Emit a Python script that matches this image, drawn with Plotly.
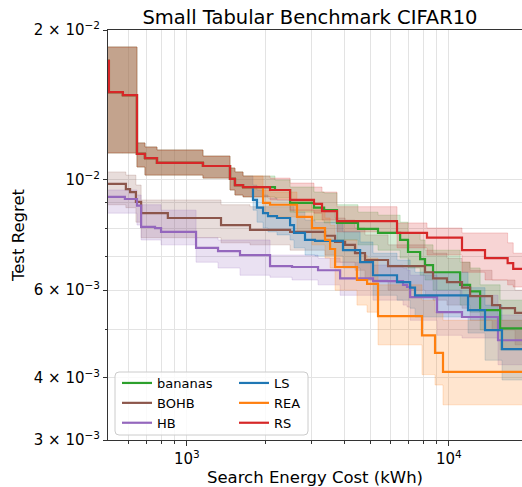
import plotly.graph_objects as go
import math

SCALE = 1e-3  # all regret values below are given in units of 10^-3

# ---------------- data ----------------
# bananas, LS, REA and RS share the same initial random-sampling phase
shared_x = [483, 504, 570, 645, 692, 769, 1152, 1461, 1526, 1638]
shared_y = [17.33, 15.01, 14.80, 11.27, 11.06, 10.81, 10.66, 10.04, 9.76, 9.67]
shared_hi = [18.49, 18.49, 18.49, 11.86, 11.64, 11.48, 11.16, 10.56, 10.37, 10.18]
shared_lo = [11.32, 11.32, 11.32, 10.61, 10.22, 10.22, 10.08, 9.54, 9.32, 9.24]

rs_x = shared_x + [2077, 2477, 3056, 3280, 3741, 6340, 8251, 11223, 13739, 16760, 17600, 20000]
rs_y = shared_y + [9.54, 9.11, 8.95, 8.65, 8.26, 7.82, 7.65, 7.22, 6.96, 6.80, 6.62, 6.62]
rs_hi = shared_hi + [10.08, 9.85, 9.67, 9.45, 8.83, 8.19, 8.00, 7.82, 7.82, 7.47, 7.12, 7.12]
rs_lo = shared_lo + [9.11, 8.69, 8.57, 8.30, 7.86, 7.30, 7.06, 6.52, 6.29, 6.15, 6.09, 6.09]

bananas_x = shared_x + [2169, 2477, 3056, 3340, 3741, 4499, 5365, 6516, 6983, 7769, 8109, 8700,
                        11040, 12050, 13160, 15690, 20000]
bananas_y = shared_y + [9.54, 8.99, 8.79, 8.69, 8.19, 7.97, 7.82, 7.57, 7.16, 6.93, 6.74, 6.52,
                        6.15, 5.97, 5.47, 5.03, 5.03]
bananas_hi = shared_hi + [9.99, 9.67, 9.45, 9.41, 8.91, 8.61, 8.49, 8.22, 7.82, 7.57, 7.40, 7.22,
                          6.83, 6.65, 6.15, 5.73, 5.73]
bananas_lo = shared_lo + [9.19, 8.61, 8.30, 8.19, 7.57, 7.40, 7.22, 6.96, 6.65, 6.43, 6.29, 6.00,
                          5.60, 5.42, 4.99, 4.55, 4.55]

ls_x = shared_x + [1788, 1852, 1953, 2040, 2208, 2477, 2564, 2824, 3084, 3943, 4584, 5133, 6340,
                   7115, 7425, 11832, 13739, 15950, 20000]
ls_y = shared_y + [9.11, 8.79, 8.57, 8.45, 8.38, 8.11, 7.82, 7.57, 7.54, 7.22, 6.83, 6.43, 6.23,
                   6.07, 5.86, 5.47, 4.99, 4.57, 4.57]
ls_hi = shared_hi + [9.76, 9.54, 9.32, 9.19, 9.11, 8.83, 8.61, 8.30, 8.22, 7.86, 7.50, 7.12, 6.90,
                     6.71, 6.52, 6.07, 5.60, 5.22, 5.22]
ls_lo = shared_lo + [8.69, 8.22, 8.00, 7.86, 7.75, 7.57, 7.30, 7.06, 7.03, 6.65, 6.29, 5.86, 5.73,
                     5.52, 5.30, 4.92, 4.34, 3.96, 3.96]

rea_x = shared_x + [1953, 2077, 2632, 3002, 3367, 3521, 3679, 4459, 4873, 5365, 7896, 8854, 9497, 20000]
rea_y = shared_y + [8.99, 8.91, 8.42, 8.00, 7.57, 7.26, 6.68, 6.29, 6.18, 5.32, 4.87, 4.49, 4.11, 4.11]
rea_hi = shared_hi + [9.54, 9.45, 9.11, 8.79, 8.38, 8.11, 7.57, 7.06, 6.96, 6.15, 5.73, 5.42, 5.22, 5.22]
rea_lo = shared_lo + [8.57, 8.42, 7.86, 7.40, 6.96, 6.65, 6.00, 5.60, 5.42, 4.66, 4.06, 3.87, 3.53, 3.53]

bohb_x = [483, 585, 607, 639, 669, 846, 1350, 1742, 2477, 3367, 3679, 4017, 4382, 4785, 5860,
          8109, 8700, 9836, 11223, 12050, 14611, 15690, 17880, 20000]
bohb_y = [9.81, 9.58, 9.45, 9.03, 8.57, 8.38, 8.11, 7.93, 7.86, 7.72, 7.50, 7.40, 7.12, 6.90, 6.71,
          6.52, 6.34, 6.23, 6.07, 5.84, 5.60, 5.52, 5.40, 5.40]
bohb_hi = [10.37, 10.22, 10.22, 9.76, 9.11, 9.11, 8.91, 8.83, 8.69, 8.61, 8.38, 8.30, 8.00, 7.75, 7.40,
           7.22, 7.12, 6.96, 6.83, 6.58, 6.29, 6.29, 6.00, 6.00]
bohb_lo = [8.91, 8.79, 8.79, 8.22, 7.65, 7.65, 7.47, 7.40, 7.22, 7.06, 6.83, 6.83, 6.58, 6.29, 6.00,
           5.86, 5.73, 5.60, 5.52, 5.22, 4.99, 4.99, 4.66, 4.66]

hb_x = [483, 580, 645, 669, 756, 797, 1084, 1315, 1595, 2077, 2520, 3167, 3845, 5133, 6683, 6922,
        7115, 9011, 11223, 15400, 20000]
hb_y = [9.24, 9.15, 8.87, 8.04, 8.00, 7.86, 7.30, 7.19, 7.06, 6.71, 6.68, 6.58, 6.34, 6.26, 6.15, 6.09,
        5.81, 5.42, 5.30, 4.76, 4.76]
hb_hi = [9.54, 9.54, 9.32, 8.91, 8.91, 8.69, 7.65, 7.57, 7.57, 7.06, 7.06, 6.96, 6.83, 6.74, 6.65, 6.58,
         6.43, 6.00, 5.86, 5.35, 5.35]
hb_lo = [8.57, 8.57, 8.11, 7.57, 7.57, 7.40, 6.83, 6.65, 6.43, 6.37, 6.29, 6.15, 5.86, 5.73, 5.60, 5.55,
         5.22, 4.87, 4.81, 4.25, 4.25]

# (name, colour, x, y, lower, upper, legend)
series = [
    ("bananas", "#2ca02c", bananas_x, bananas_y, bananas_lo, bananas_hi, "legend"),
    ("BOHB", "#8c564b", bohb_x, bohb_y, bohb_lo, bohb_hi, "legend"),
    ("HB", "#9467bd", hb_x, hb_y, hb_lo, hb_hi, "legend"),
    ("LS", "#1f77b4", ls_x, ls_y, ls_lo, ls_hi, "legend2"),
    ("REA", "#ff7f0e", rea_x, rea_y, rea_lo, rea_hi, "legend2"),
    ("RS", "#d62728", rs_x, rs_y, rs_lo, rs_hi, "legend2"),
]

x_major = [1000, 10000]
x_major_text = ["10<sup>3</sup>", "10<sup>4</sup>"]
x_minor = [600, 700, 800, 900, 2000, 3000, 4000, 5000, 6000, 7000, 8000, 9000]
y_major = [0.003, 0.004, 0.006, 0.01, 0.02]
y_major_text = ["3 × 10<sup>−3</sup>", "4 × 10<sup>−3</sup>", "6 × 10<sup>−3</sup>",
                "10<sup>−2</sup>", "2 × 10<sup>−2</sup>"]
y_minor = [0.005, 0.007, 0.008, 0.009]
x_range = [500, 19015]
y_range = [0.003, 0.02]

# ---------------- figure ----------------
W, H = 522, 487
ML, MR, MT, MB = 108, 0, 30, 47
PW, PH = W - ML - MR, H - MT - MB


def rgba(hexcol, a):
    h = hexcol.lstrip("#")
    r, g, b = int(h[0:2], 16), int(h[2:4], 16), int(h[4:6], 16)
    return f"rgba({r},{g},{b},{a})"


FONT = "DejaVu Sans"
fig = go.Figure()

for name, col, xs, ys, lo, hi, leg in series:
    assert len(xs) == len(ys) == len(lo) == len(hi), name
    fig.add_trace(go.Scatter(x=xs, y=[v * SCALE for v in lo], mode="lines",
                             line=dict(width=1, shape="hv", color=rgba(col, 0.2)),
                             showlegend=False, hoverinfo="skip"))
    fig.add_trace(go.Scatter(x=xs, y=[v * SCALE for v in hi], mode="lines",
                             line=dict(width=1, shape="hv", color=rgba(col, 0.2)),
                             fill="tonexty", fillcolor=rgba(col, 0.2),
                             showlegend=False, hoverinfo="skip"))

for name, col, xs, ys, lo, hi, leg in series:
    fig.add_trace(go.Scatter(x=xs, y=[v * SCALE for v in ys], mode="lines", name=name,
                             line=dict(width=2.2, shape="hv", color=col), legend=leg))

GRID = "#e3e3e3"
AX = "#333333"

fig.update_layout(
    width=W, height=H,
    margin=dict(l=ML, r=MR, t=MT, b=MB, pad=0),
    paper_bgcolor="white", plot_bgcolor="white",
    font=dict(family=FONT, color="black", size=15),
    title=dict(text="Small Tabular Benchmark CIFAR10", x=(310 - ML) / PW, xref="paper",
               xanchor="center", y=1 - 17 / H, yref="container", yanchor="middle",
               font=dict(size=19.5, family=FONT)),
    xaxis=dict(type="log", range=[math.log10(x_range[0]), math.log10(x_range[1])],
               tickmode="array", tickvals=x_major, ticktext=x_major_text,
               ticks="outside", ticklen=5, tickwidth=1, tickcolor=AX,
               showgrid=True, gridcolor=GRID, gridwidth=1,
               minor=dict(tickmode="array", tickvals=x_minor, ticks="outside", ticklen=3,
                          tickcolor=AX, showgrid=True, gridcolor=GRID, gridwidth=1),
               showline=True, linecolor=AX, linewidth=1, mirror=True, zeroline=False,
               tickfont=dict(size=15),
               title=dict(text="Search Energy Cost (kWh)", font=dict(size=16.5), standoff=4)),
    yaxis=dict(type="log", range=[math.log10(y_range[0]), math.log10(y_range[1])],
               tickmode="array", tickvals=y_major, ticktext=y_major_text,
               ticks="outside", ticklen=4, tickwidth=1, tickcolor=AX,
               showgrid=True, gridcolor=GRID, gridwidth=1,
               minor=dict(tickmode="array", tickvals=y_minor, ticks="outside", ticklen=2.5,
                          tickcolor=AX, showgrid=True, gridcolor=GRID, gridwidth=1),
               showline=True, linecolor=AX, linewidth=1, mirror=False, zeroline=False,
               tickfont=dict(size=15),
               title=dict(text="Test Regret", font=dict(size=16.5), standoff=4)),
    legend=dict(x=(117 - ML) / PW, y=(440 - 368) / PH, xanchor="left", yanchor="top",
                bgcolor="rgba(0,0,0,0)", borderwidth=0, font=dict(size=13, family=FONT),
                itemwidth=30, tracegroupgap=0, traceorder="normal"),
    legend2=dict(x=(234 - ML) / PW, y=(440 - 368) / PH, xanchor="left", yanchor="top",
                 bgcolor="rgba(0,0,0,0)", borderwidth=0, font=dict(size=13, family=FONT),
                 itemwidth=30, tracegroupgap=0, traceorder="normal"),
)

# legend frame (rounded box behind the two legend columns)
x0, x1 = (115 - ML) / PW, (308 - ML) / PW
y0, y1 = (440 - 435) / PH, (440 - 372) / PH
rx, ry = 4 / PW, 4 / PH
path = (f"M {x0+rx},{y0} L {x1-rx},{y0} Q {x1},{y0} {x1},{y0+ry} L {x1},{y1-ry} "
        f"Q {x1},{y1} {x1-rx},{y1} L {x0+rx},{y1} Q {x0},{y1} {x0},{y1-ry} "
        f"L {x0},{y0+ry} Q {x0},{y0} {x0+rx},{y0} Z")
fig.add_shape(type="path", path=path, xref="paper", yref="paper", layer="above",
              fillcolor="rgba(255,255,255,0.8)", line=dict(color="#cccccc", width=1))

fig.write_html("out.html")
